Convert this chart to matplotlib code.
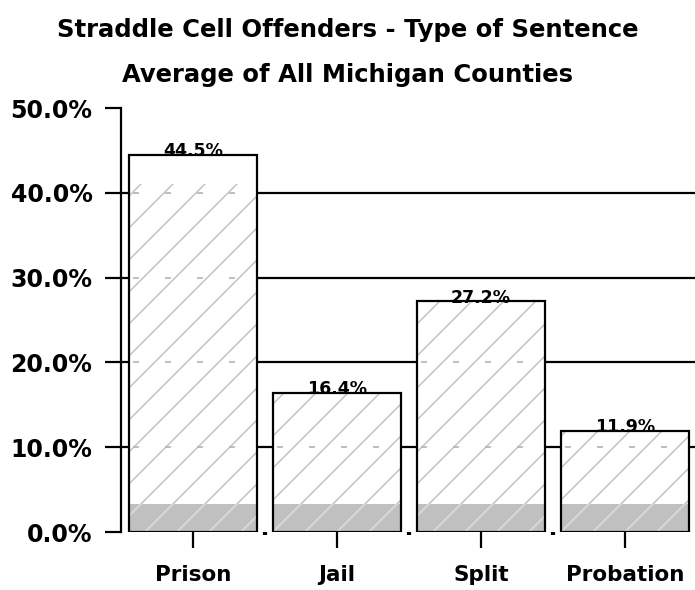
"""Straddle cell offenders: type of sentence, average over Michigan counties."""
import numpy as np
import matplotlib
matplotlib.use("Agg")
import matplotlib.pyplot as plt
from matplotlib.collections import LineCollection
from matplotlib.patches import Rectangle

categories = ["Prison", "Jail", "Split", "Probation"]
shares = [44.5, 16.4, 27.2, 11.9]          # percent of offenders
value_labels = ["44.5%", "16.4%", "27.2%", "11.9%"]
y_ticks = [0, 10, 20, 30, 40, 50]
y_tick_labels = ["0.0%", "10.0%", "20.0%", "30.0%", "40.0%", "50.0%"]
band_top = 3.3                                # grey floor band inside each bar
hatch_top = [41.0, None, None, None]          # prison hatch stops short of the top

plt.rcParams["font.family"] = ["DejaVu Sans"]

fig = plt.figure(figsize=(6.95, 5.90), dpi=100)
ax = fig.add_axes([0.174, 0.0983, 0.8288, 0.7186])
W_PX, H_PX = 0.8288 * 695, 0.7186 * 590

x = np.arange(len(categories))
width = 0.889

# solid grid lines behind the bars
for lvl in y_ticks[1:-1]:
    ax.axhline(lvl, color="black", lw=1.6, zorder=1)

bars = ax.bar(x, shares, width=width, color="white", edgecolor="none", zorder=2)


def hatch_lines(color, clip, spacing_px=32):
    """45-degree (in pixels) lines across the whole axes, clipped to one patch."""
    segs = []
    for c in np.arange(-H_PX, W_PX + H_PX, spacing_px):
        # y_px = x_px - c  ->  axes fractions
        x0, x1 = c / W_PX, (c + H_PX) / W_PX
        segs.append([(x0, 0.0), (x1, 1.0)])
    lc = LineCollection(segs, colors=color, linewidths=1.1,
                        transform=ax.transAxes, zorder=3)
    ax.add_collection(lc)
    lc.set_clip_path(clip)


for i, b in enumerate(bars):
    left, w = b.get_x(), b.get_width()
    top = hatch_top[i] if hatch_top[i] is not None else shares[i]
    band = Rectangle((left, 0), w, band_top, facecolor="#c0c0c0",
                     edgecolor="none", zorder=2.5)
    ax.add_patch(band)
    upper = Rectangle((left, band_top), w, top - band_top,
                      transform=ax.transData, visible=False)
    ax.add_patch(upper)
    hatch_lines("#c4c4c4", upper)
    hatch_lines("#dcdcdc", band)
    # faint dashed remains of the grid inside the bar
    for lvl in y_ticks[1:-1]:
        if lvl < shares[i]:
            ax.hlines(lvl, left, left + w, colors="#b4b4b4", lw=1.2,
                      linestyles=(16.8, (3.6, 15.6)), zorder=3.2)
    ax.add_patch(Rectangle((left, 0), w, shares[i], facecolor="none",
                           edgecolor="black", lw=1.6, zorder=4))
    ax.text(b.get_x() + w / 2, shares[i] - 0.15, value_labels[i], ha="center",
            va="baseline", fontsize=12.5, fontweight="bold", zorder=5)

ax.set_xlim(-0.5, 3.5)
ax.set_ylim(0, 50)
ax.set_yticks(y_ticks)
ax.set_yticklabels(y_tick_labels, fontsize=17, fontweight="bold")
ax.set_xticks(x)
ax.set_xticklabels(categories, fontsize=15.5, fontweight="bold")
ax.set_xticks(x[:-1] + 0.5, minor=True)
ax.tick_params(axis="y", length=11.5, width=1.6, pad=9)
ax.tick_params(axis="x", which="major", length=11.5, width=1.6, pad=12)
ax.tick_params(axis="x", which="minor", length=2.5, width=3)
for side in ("top", "right", "bottom"):
    ax.spines[side].set_visible(False)
ax.spines["left"].set_linewidth(1.6)

fig.text(0.5, 0.949, "Straddle Cell Offenders - Type of Sentence",
         ha="center", va="center", fontsize=17.5, fontweight="bold")
fig.text(0.5, 0.873, "Average of All Michigan Counties",
         ha="center", va="center", fontsize=17.5, fontweight="bold")

fig.savefig("out.png", dpi=100)
